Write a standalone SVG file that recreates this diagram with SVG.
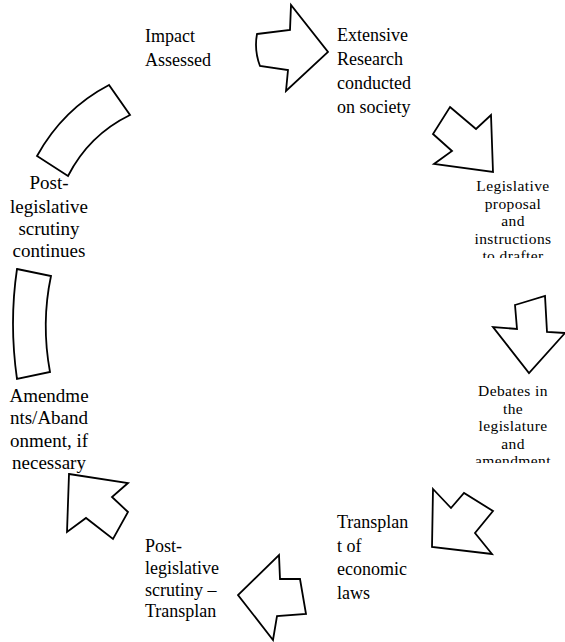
<svg xmlns="http://www.w3.org/2000/svg" width="565" height="642" viewBox="0 0 565 642">
<style>
.shape{fill:#fff;stroke:#000;stroke-width:1.8;stroke-linejoin:miter}
text{font-family:"Liberation Serif","Times New Roman",serif;fill:#000}
.big{font-size:18px}
.mid{font-size:19px}
.small{font-size:15.5px;letter-spacing:0.4px}
</style>
<defs>
<clipPath id="clipLeg"><rect x="440" y="170" width="125" height="88"/></clipPath>
<clipPath id="clipDeb"><rect x="440" y="375" width="125" height="88"/></clipPath>
</defs>
<rect width="565" height="642" fill="#fff"/>
<g id="connectors">
<path class="shape" d="M257,34 L290,30 L291,5 L328,52 L286,91 L288,70 L260,66 Q254,50 257,34 Z"/>
<path class="shape" d="M450,107 L476,129 L491,115 L493,172 L434,164 L452,151 L433,134 Z"/>
<path class="shape" d="M515,305 L545,296 L547,332 L565,333 L529,373 L493,327 L517,329 Z"/>
<path class="shape" d="M433,489 L451,508 L464,493 L493,511 L475,533 L492,554 L432,547 Z"/>
<path class="shape" d="M279,555 L280,579 L300,579 L306,614 L277,616 L273,640 L238,595 Z"/>
<path class="shape" d="M69,474 L128,483 L112,497 L128,512 L113,539 L86,518 L67,532 Z"/>
<path class="shape" d="M17,269 L51,276 Q41,323 50,372 L17,379 Q9,323 17,269 Z"/>
<path class="shape" d="M37,156 Q63,109 109,85 L130,115 Q89,135 68,176 Z"/>
</g>
<g id="node-impact">
<text class="big" x="145" y="42">Impact</text>
<text class="big" x="145" y="66">Assessed</text>
</g>
<g id="node-research">
<text class="big" x="337" y="41">Extensive</text>
<text class="big" x="337" y="65">Research</text>
<text class="big" x="337" y="89">conducted</text>
<text class="big" x="337" y="113">on society</text>
</g>
<g id="node-proposal" clip-path="url(#clipLeg)" text-anchor="middle">
<text class="small" x="513" y="191">Legislative</text>
<text class="small" x="513" y="208.5">proposal</text>
<text class="small" x="513" y="226">and</text>
<text class="small" x="513" y="243.5">instructions</text>
<text class="small" x="513" y="261">to drafter</text>
</g>
<g id="node-debates" clip-path="url(#clipDeb)" text-anchor="middle">
<text class="small" x="513" y="396">Debates in</text>
<text class="small" x="513" y="413.5">the</text>
<text class="small" x="513" y="431">legislature</text>
<text class="small" x="513" y="448.5">and</text>
<text class="small" x="513" y="466">amendment</text>
</g>
<g id="node-transplant">
<text class="big" x="337" y="528">Transplan</text>
<text class="big" x="337" y="552">t of</text>
<text class="big" x="337" y="575">economic</text>
<text class="big" x="337" y="599">laws</text>
</g>
<g id="node-pls-transplant">
<text class="big" x="145" y="552">Post-</text>
<text class="big" x="145" y="574">legislative</text>
<text class="big" x="145" y="596">scrutiny –</text>
<text class="big" x="145" y="617">Transplan</text>
</g>
<g id="node-amendments" text-anchor="middle">
<text class="mid" x="49" y="402">Amendme</text>
<text class="mid" x="49" y="424">nts/Aband</text>
<text class="mid" x="49" y="447">onment, if</text>
<text class="mid" x="49" y="469">necessary</text>
</g>
<g id="node-pls-continues" text-anchor="middle">
<text class="mid" x="49" y="189">Post-</text>
<text class="mid" x="49" y="213">legislative</text>
<text class="mid" x="49" y="235">scrutiny</text>
<text class="mid" x="49" y="257">continues</text>
</g>
</svg>
